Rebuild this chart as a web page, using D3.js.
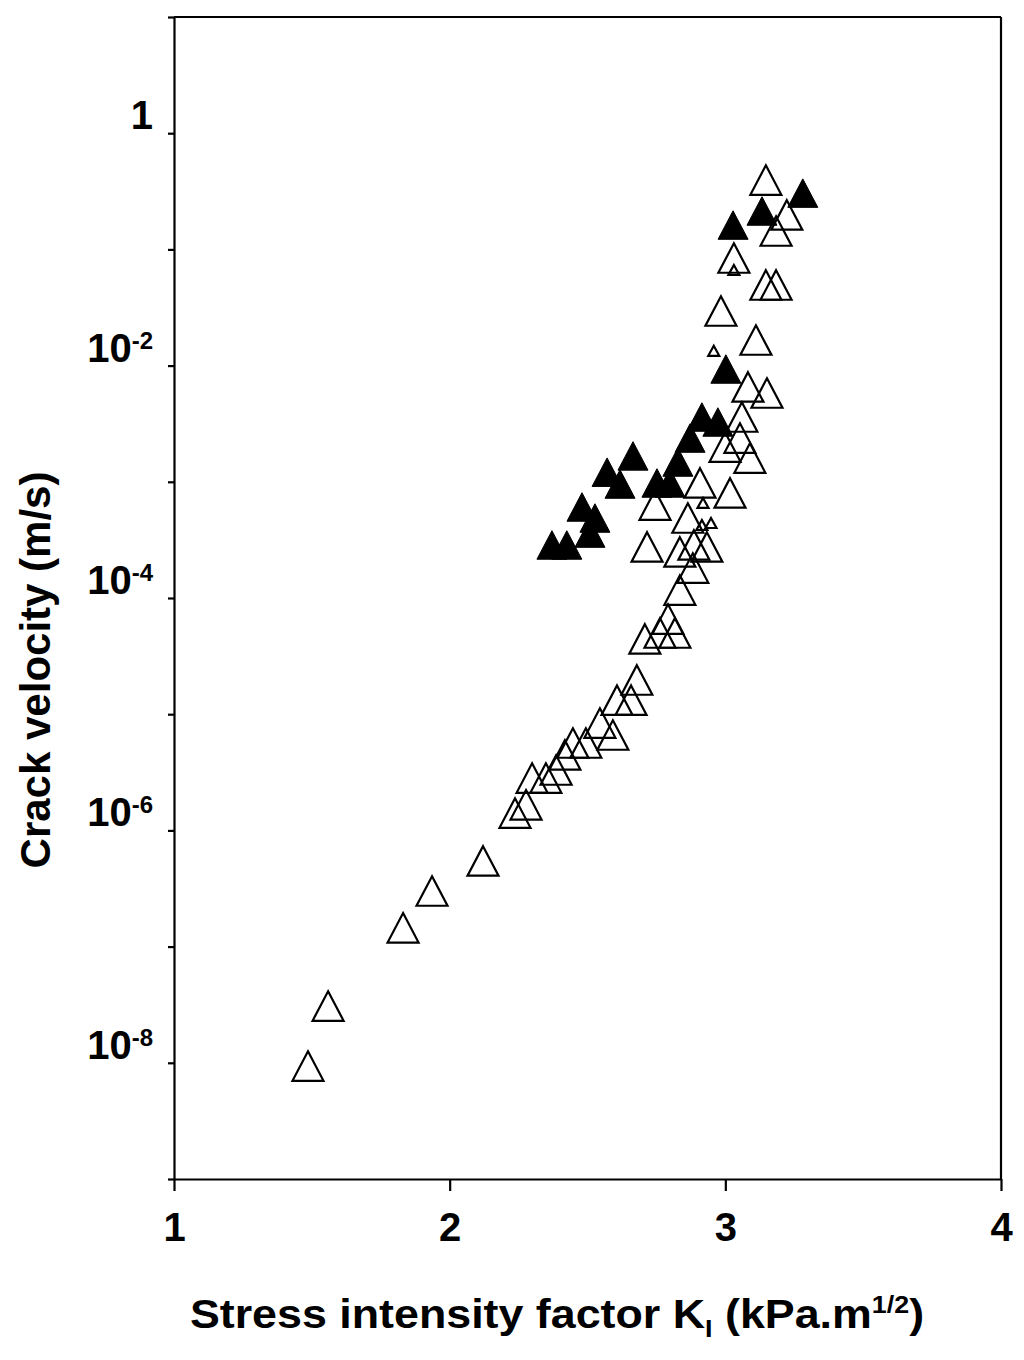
<!DOCTYPE html>
<html>

<head>
  <title>Crack velocity</title>
  <meta charset="utf-8">
  <script src="https://d3js.org/d3.v7.min.js"></script>
  <style>
    body { margin: 0; background: #fff; }
    svg text {
      font-family: "Liberation Sans", Arial, sans-serif;
      font-weight: bold;
      fill: #000;
    }
    .axis path, .axis line, .frame { stroke: #000; stroke-width: 2.2px; fill: none; }
    .open { fill: none; stroke: #000; stroke-width: 2.2px; }
    .filled { fill: #000; stroke: #000; stroke-width: 1px; }
  </style>
</head>

<body>
  <svg width="1024" height="1360"></svg>
  <script>

    // open triangles (large)
    var openK = [3.147, 3.223, 3.184, 3.031, 3.147, 3.184, 2.984, 3.111, 3.082, 3.151,
                 3.060, 3.053, 3.089, 3.017, 2.908, 2.864, 2.745, 2.716, 2.835, 2.933,
                 2.886, 2.835, 2.882, 2.792, 2.763, 2.817, 2.708, 2.679, 2.607, 2.658,
                 2.545, 2.592, 2.494, 2.447, 2.418, 2.386, 2.349, 2.299, 2.277, 2.237,
                 2.121, 1.936, 1.831, 1.559, 1.486, 2.999];
    var openV = [3.95e-1, 1.98e-1, 1.44e-1, 8.43e-2, 4.94e-2, 4.94e-2, 2.95e-2, 1.66e-2, 6.55e-3, 5.81e-3,
                 3.61e-3, 2.38e-3, 1.60e-3, 8.02e-4, 9.77e-4, 4.88e-4, 6.31e-4, 2.75e-4, 2.49e-4, 2.75e-4,
                 2.86e-4, 1.17e-4, 1.81e-4, 6.59e-5, 5.00e-5, 5.00e-5, 4.44e-5, 1.97e-5, 1.32e-5, 1.32e-5,
                 8.39e-6, 6.62e-6, 5.65e-6, 5.65e-6, 4.46e-6, 3.31e-6, 2.82e-6, 2.82e-6, 1.66e-6, 1.41e-6,
                 5.46e-7, 3.01e-7, 1.45e-7, 3.08e-8, 9.38e-9, 1.99e-3];

    // open triangles (small)
    var smallK = [3.031, 2.958, 2.919, 2.948, 2.915];
    var smallV = [6.65e-2, 1.34e-2, 6.58e-4, 4.42e-4, 4.25e-4];

    // filled triangles
    var filledK = [3.281, 3.133, 3.028, 3.002, 2.915, 2.973, 2.872, 2.828, 2.799, 2.752,
                   2.665, 2.618, 2.571, 2.527, 2.480, 2.509, 2.425, 2.371];
    var filledV = [3.05e-1, 2.14e-1, 1.62e-1, 9.35e-3, 3.61e-3, 3.27e-3, 2.38e-3, 1.48e-3, 9.77e-4, 9.77e-4,
                   1.67e-3, 9.57e-4, 1.21e-3, 4.88e-4, 6.07e-4, 3.62e-4, 2.86e-4, 2.86e-4];

    var xTicks = [1, 2, 3, 4];
    var yTicks = [1e1, 1, 1e-1, 1e-2, 1e-3, 1e-4, 1e-5, 1e-6, 1e-7, 1e-8, 1e-9];
    var yLabelExp = [0, -2, -4, -6, -8];

    var svg = d3.select('svg');
    var x = d3.scaleLinear().domain([1, 4]).range([174, 1001]);
    var y = d3.scaleLog().domain([1e-9, 10]).range([1179, 17]);

    function tri(w, h) {
      return 'M0,' + (-h / 2) + 'L' + (w / 2) + ',' + (h / 2) + 'L' + (-w / 2) + ',' + (h / 2) + 'Z';
    }

    function plot(ks, vs, cls, w, h) {
      svg.append('g').selectAll('path')
        .data(d3.zip(ks, vs))
        .enter()
        .append('path')
        .attr('class', cls)
        .attr('d', tri(w, h))
        .attr('transform', function (d) { return 'translate(' + x(d[0]) + ',' + y(d[1]) + ')'; });
    }

    // frame top and right
    svg.append('line').attr('class', 'frame')
      .attr('x1', x(1)).attr('x2', x(4)).attr('y1', y(10)).attr('y2', y(10));
    svg.append('line').attr('class', 'frame')
      .attr('x1', x(4)).attr('x2', x(4)).attr('y1', y(10)).attr('y2', y(1e-9));

    svg.append('g')
      .attr('class', 'axis')
      .attr('transform', 'translate(' + x(1) + ',0)')
      .call(d3.axisLeft(y).tickValues(yTicks).tickSize(6).tickSizeOuter(0).tickFormat(''));

    var xa = svg.append('g')
      .attr('class', 'axis')
      .attr('transform', 'translate(0,' + y(1e-9) + ')')
      .call(d3.axisBottom(x).tickValues(xTicks).tickSize(12).tickSizeOuter(0).tickPadding(22).tickFormat(d3.format('d')));
    xa.selectAll('text')
      .attr('font-size', 40)
      .attr('font-family', '"Liberation Sans", Arial, sans-serif');

    // y tick labels with superscripts
    yLabelExp.forEach(function (e) {
      var t = svg.append('text')
        .attr('x', 153)
        .attr('y', y(Math.pow(10, e)) - 4)
        .attr('text-anchor', 'end')
        .attr('font-size', 40);
      if (e === 0) {
        t.text('1');
      } else {
        t.append('tspan').text('10');
        t.append('tspan').attr('font-size', 24).attr('dy', -13).text(String(e).replace('\u2212', '-'));
      }
    });

    plot(openK, openV, 'open', 31, 29.5);
    plot(smallK, smallV, 'open', 11, 10);
    plot(filledK, filledV, 'filled', 30, 28.5);

    // axis titles
    var xl = svg.append('text')
      .attr('transform', 'translate(557,1328) scale(1.12,1)')
      .attr('text-anchor', 'middle')
      .attr('font-size', 40);
    xl.append('tspan').text('Stress intensity factor K');
    xl.append('tspan').attr('font-size', 24).attr('dy', 9).text('I');
    xl.append('tspan').attr('dy', -9).text(' (kPa.m');
    xl.append('tspan').attr('font-size', 24).attr('dy', -15).text('1/2');
    xl.append('tspan').attr('dy', 15).text(')');

    svg.append('text')
      .attr('transform', 'translate(50,670) rotate(-90)')
      .attr('text-anchor', 'middle')
      .attr('font-size', 42)
      .text('Crack velocity (m/s)');

  </script>

</body>

</html>
